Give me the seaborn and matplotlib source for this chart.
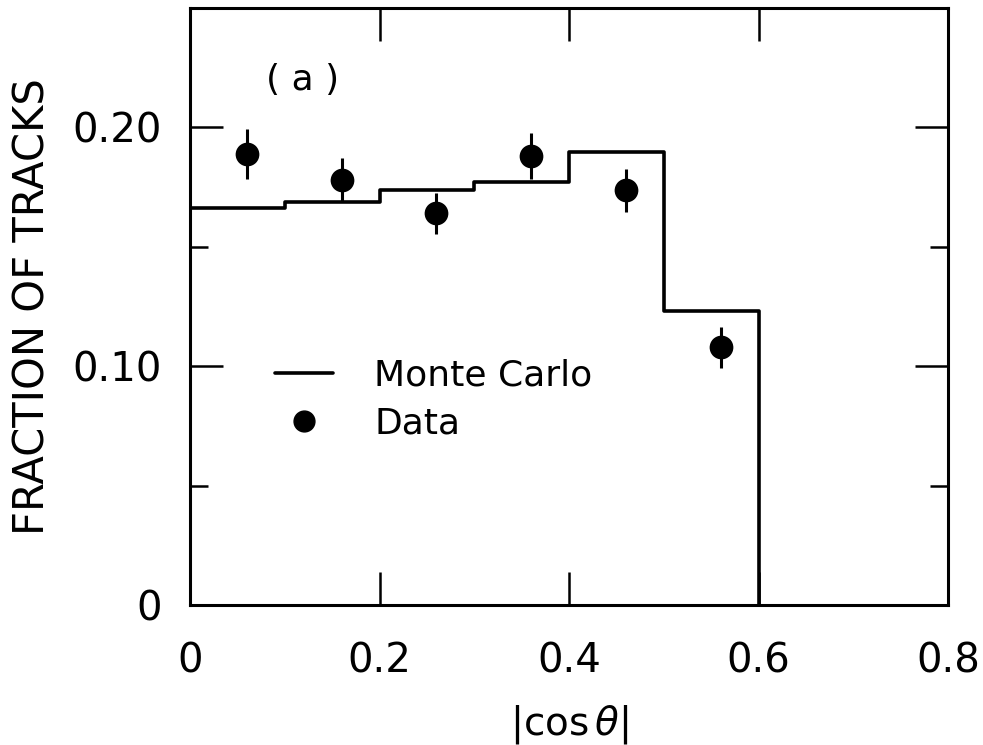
import numpy as np
import matplotlib
matplotlib.use("Agg")
import matplotlib.pyplot as plt
import seaborn as sns
from matplotlib.lines import Line2D
from matplotlib.ticker import MultipleLocator, FixedLocator

# ---- Data ----
bin_edges = [0.0, 0.1, 0.2, 0.3, 0.4, 0.5, 0.6]
mc_frac = [0.1664, 0.1688, 0.1739, 0.1771, 0.1897, 0.1230]

data_x = [0.06, 0.16, 0.26, 0.36, 0.46, 0.56]
data_y = [0.189, 0.178, 0.164, 0.188, 0.1736, 0.108]
data_err = [0.0105, 0.009, 0.0085, 0.0095, 0.009, 0.0086]

x_ticks = [0, 0.2, 0.4, 0.6, 0.8]
x_labels = ["0", "0.2", "0.4", "0.6", "0.8"]
y_ticks = [0, 0.10, 0.20]
y_labels = ["0", "0.10", "0.20"]

# ---- Style ----
sns.set_style("ticks")
plt.rcParams["font.family"] = ["DejaVu Sans"]
plt.rcParams["mathtext.fontset"] = "dejavusans"
plt.rcParams["text.color"] = "black"
plt.rcParams["axes.labelcolor"] = "black"
plt.rcParams["xtick.color"] = "black"
plt.rcParams["ytick.color"] = "black"

fig = plt.figure(figsize=(9.83, 7.45), dpi=100)
ax = fig.add_axes([0.1933, 0.1879, 0.9644 - 0.1933, 0.9893 - 0.1879])

# ---- Monte Carlo histogram (outline, closed down to 0 at the last edge) ----
step_x = bin_edges + [bin_edges[-1]]
step_y = mc_frac + [mc_frac[-1], 0.0]
sns.lineplot(x=step_x, y=step_y, drawstyle="steps-post", estimator=None,
             sort=False, color="black", linewidth=2.6, ax=ax)

# ---- Data points ----
ax.errorbar(data_x, data_y, yerr=data_err, fmt="none", ecolor="black",
            elinewidth=2.2, capsize=0, zorder=3)
sns.scatterplot(x=data_x, y=data_y, color="black", s=250, edgecolor="black",
                zorder=4, ax=ax)

ax.set_xlim(0, 0.8)
ax.set_ylim(0, 0.25)

ax.xaxis.set_major_locator(FixedLocator(x_ticks))
ax.set_xticklabels(x_labels)
ax.yaxis.set_major_locator(FixedLocator(y_ticks))
ax.set_yticklabels(y_labels)
ax.yaxis.set_minor_locator(MultipleLocator(0.05))

ax.tick_params(which="both", direction="in", top=True, right=True,
               width=1.8, color="black", labelcolor="black")
ax.tick_params(which="major", length=24, labelsize=29)
ax.tick_params(which="minor", length=13)
ax.tick_params(axis="y", which="major", pad=20)
ax.tick_params(axis="x", which="major", pad=26)
for s in ax.spines.values():
    s.set_linewidth(2.2)
    s.set_color("black")

ax.set_xlabel(r"$|\cos\theta|$", fontsize=28, labelpad=16)
ax.set_ylabel("FRACTION OF TRACKS", fontsize=30, labelpad=14)

ax.text(0.148, 0.879, "( a )", transform=ax.transAxes, fontsize=26,
        ha="center", va="center")

handles = [Line2D([], [], color="black", linewidth=2.6),
           Line2D([], [], color="black", marker="o", linestyle="none",
                  markersize=15)]
ax.legend(handles, ["Monte Carlo", "Data"], loc="upper left",
          bbox_to_anchor=(0.112, 0.413), frameon=False, fontsize=26,
          handlelength=1.6, handletextpad=1.15, borderpad=0,
          borderaxespad=0, labelspacing=0.4)

fig.savefig("out.png", dpi=100)
